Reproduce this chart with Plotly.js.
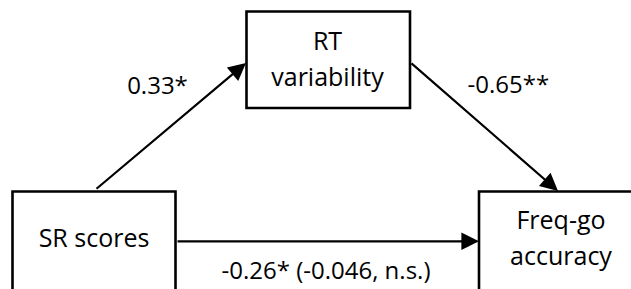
<!DOCTYPE html>
<html>
<head>
<meta charset="utf-8">
<script src="https://cdn.plot.ly/plotly-3.0.1.min.js"></script>
<style>html,body{margin:0;padding:0;background:#fff;}#chart{width:631px;height:289px;}</style>
</head>
<body>
<div id="chart"></div>
<script>
// Data: variables in the mediation model and path coefficients
const nodeNames = ['SR scores', 'RT<br>variability', 'Freq-go<br>accuracy'];
const pathFrom = [0, 1, 0];
const pathTo = [1, 2, 2];
const pathLabels = ['0.33*', '-0.65**', '-0.26* (-0.046, n.s.)'];

// Layout geometry (pixels in a 631x289 canvas)
const boxes = [
  {x0: 12.5, x1: 175.5, y0: 191.5, y1: 295},
  {x0: 246.5, x1: 410, y0: 11.5, y1: 108},
  {x0: 479, x1: 647, y0: 191.5, y1: 295}
];
// first-line centre and line step for each node's text
const textAnchor = [[94, 241], [327.5, 43.5], [561, 223]];
const lineStep = 36;
const arrowTail = [[95, 190], [410, 62], [176, 241.3]];
const arrowTip = [[246, 63], [558, 191], [479, 241.3]];
const labelPos = [[157.5, 88.3], [508.3, 86.6], [326, 273.3]];

const FONT = '"Open Sans", sans-serif';

const shapes = boxes.map(b => ({
  type: 'rect', xref: 'x', yref: 'y', x0: b.x0, x1: b.x1, y0: b.y0, y1: b.y1,
  line: {color: '#000', width: 2.6}, fillcolor: '#fff', layer: 'below'
}));

const annotations = pathFrom.map((f, i) => ({
  xref: 'x', yref: 'y', axref: 'x', ayref: 'y',
  x: arrowTip[i][0], y: arrowTip[i][1], ax: arrowTail[i][0], ay: arrowTail[i][1],
  text: '', showarrow: true, arrowhead: 2, arrowsize: 1.6, arrowwidth: 2.2,
  arrowcolor: '#000', standoff: 0, startstandoff: 0
}));

// split node names into lines, each placed separately
const nx = [], ny = [], nt = [];
nodeNames.forEach((name, i) => {
  name.split('<br>').forEach((line, j) => {
    nx.push(textAnchor[i][0]);
    ny.push(textAnchor[i][1] + j * lineStep);
    nt.push(line);
  });
});

const traces = [
  {
    type: 'scatter', mode: 'text', x: nx, y: ny,
    text: nt, textposition: 'middle center', hoverinfo: 'skip',
    textfont: {family: FONT, size: 25, color: '#000'}
  },
  {
    type: 'scatter', mode: 'text', x: labelPos.map(p => p[0]), y: labelPos.map(p => p[1]),
    text: pathLabels, textposition: 'middle center', hoverinfo: 'skip',
    textfont: {family: FONT, size: 24, color: '#000'}
  }
];

const layout = {
  width: 631, height: 289,
  margin: {l: 0, r: 0, t: 0, b: 0},
  paper_bgcolor: '#fff', plot_bgcolor: '#fff',
  showlegend: false,
  xaxis: {range: [0, 631], visible: false, fixedrange: true},
  yaxis: {range: [289, 0], visible: false, fixedrange: true},
  shapes: shapes,
  annotations: annotations
};

Plotly.newPlot('chart', traces, layout, {staticPlot: true, displayModeBar: false});
</script>
</body>
</html>
